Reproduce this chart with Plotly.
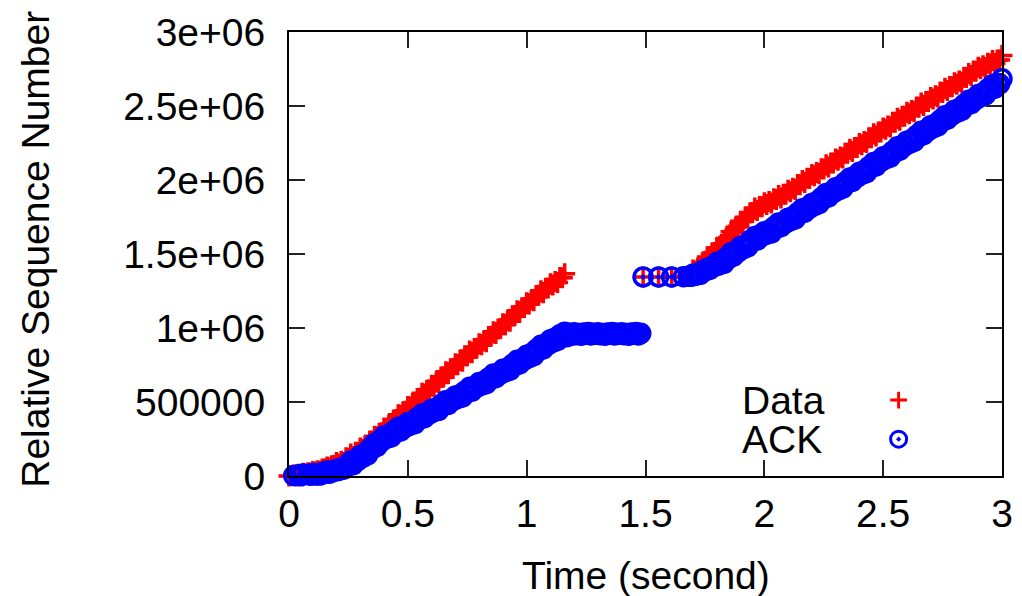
import plotly.graph_objects as go

# ================= data (sequence numbers in thousands) =================
# ---- Data packets (red +), before the gap ----
data_t_a = [0.00, 0.01, 0.02, 0.03, 0.04, 0.05, 0.06, 0.07, 0.08, 0.09,
            0.10, 0.11, 0.12, 0.13, 0.14, 0.15, 0.16, 0.17, 0.18, 0.19,
            0.20, 0.21, 0.22, 0.23, 0.24, 0.25, 0.26, 0.27, 0.28, 0.29,
            0.30, 0.31, 0.32, 0.33, 0.34, 0.35, 0.36, 0.37, 0.38, 0.39,
            0.40, 0.41, 0.42, 0.43, 0.44, 0.45, 0.46, 0.47, 0.48, 0.49,
            0.50, 0.51, 0.52, 0.53, 0.54, 0.55, 0.56, 0.57, 0.58, 0.59,
            0.60, 0.61, 0.62, 0.63, 0.64, 0.65, 0.66, 0.67, 0.68, 0.69,
            0.70, 0.71, 0.72, 0.73, 0.74, 0.75, 0.76, 0.77, 0.78, 0.79,
            0.80, 0.81, 0.82, 0.83, 0.84, 0.85, 0.86, 0.87, 0.88, 0.89,
            0.90, 0.91, 0.92, 0.93, 0.94, 0.95, 0.96, 0.97, 0.98, 0.99,
            1.00, 1.01, 1.02, 1.03, 1.04, 1.05, 1.06, 1.07, 1.08, 1.09,
            1.10, 1.11, 1.12, 1.13, 1.14, 1.15, 1.16]
data_seq_a = [0, -1, 6, 0, 12, 9, 19, 12, 22, 20,
              31, 27, 36, 32, 47, 47, 60, 56, 69, 71,
              92, 80, 100, 91, 123, 120, 148, 132, 160, 160,
              189, 181, 205, 200, 236, 237, 269, 257, 289, 292,
              324, 318, 345, 341, 379, 381, 414, 402, 434, 437,
              469, 463, 490, 486, 524, 526, 559, 547, 579, 582,
              614, 608, 635, 631, 669, 671, 704, 692, 724, 727,
              759, 753, 780, 775, 812, 813, 845, 832, 862, 864,
              894, 887, 912, 907, 943, 944, 975, 963, 994, 997,
              1028, 1022, 1049, 1045, 1083, 1085, 1117, 1105, 1136, 1139,
              1170, 1163, 1189, 1184, 1220, 1221, 1252, 1239, 1268, 1270,
              1299, 1290, 1314, 1307, 1342, 1339, 1367]

# ---- Data packets (red +), after the gap ----
data_t_b = [1.49, 1.555, 1.61, 1.675, 1.69,
            1.70, 1.71, 1.72, 1.73, 1.74, 1.75, 1.76, 1.77, 1.78, 1.79,
            1.80, 1.81, 1.82, 1.83, 1.84, 1.85, 1.86, 1.87, 1.88, 1.89,
            1.90, 1.91, 1.92, 1.93, 1.94, 1.95, 1.96, 1.97, 1.98, 1.99,
            2.00, 2.01, 2.02, 2.03, 2.04, 2.05, 2.06, 2.07, 2.08, 2.09,
            2.10, 2.11, 2.12, 2.13, 2.14, 2.15, 2.16, 2.17, 2.18, 2.19,
            2.20, 2.21, 2.22, 2.23, 2.24, 2.25, 2.26, 2.27, 2.28, 2.29,
            2.30, 2.31, 2.32, 2.33, 2.34, 2.35, 2.36, 2.37, 2.38, 2.39,
            2.40, 2.41, 2.42, 2.43, 2.44, 2.45, 2.46, 2.47, 2.48, 2.49,
            2.50, 2.51, 2.52, 2.53, 2.54, 2.55, 2.56, 2.57, 2.58, 2.59,
            2.60, 2.61, 2.62, 2.63, 2.64, 2.65, 2.66, 2.67, 2.68, 2.69,
            2.70, 2.71, 2.72, 2.73, 2.74, 2.75, 2.76, 2.77, 2.78, 2.79,
            2.80, 2.81, 2.82, 2.83, 2.84, 2.85, 2.86, 2.87, 2.88, 2.89,
            2.90, 2.91, 2.92, 2.93, 2.94, 2.95, 2.96, 2.97, 2.98, 2.99,
            3.00]
data_seq_b = [1345, 1345, 1345, 1348, 1363,
              1392, 1382, 1404, 1401, 1439, 1445, 1480, 1472, 1506, 1510,
              1542, 1537, 1564, 1564, 1604, 1612, 1650, 1644, 1681, 1688,
              1722, 1720, 1749, 1744, 1779, 1780, 1810, 1794, 1821, 1820,
              1847, 1835, 1854, 1844, 1874, 1869, 1895, 1878, 1904, 1903,
              1930, 1921, 1944, 1936, 1969, 1968, 1997, 1983, 2011, 2010,
              2037, 2028, 2050, 2043, 2076, 2075, 2103, 2088, 2115, 2115,
              2142, 2133, 2155, 2148, 2181, 2180, 2208, 2193, 2220, 2220,
              2247, 2238, 2260, 2253, 2286, 2285, 2313, 2298, 2325, 2325,
              2352, 2343, 2365, 2358, 2391, 2390, 2418, 2403, 2430, 2430,
              2457, 2447, 2469, 2461, 2494, 2492, 2520, 2504, 2531, 2530,
              2557, 2547, 2569, 2561, 2594, 2592, 2620, 2604, 2631, 2630,
              2657, 2647, 2669, 2661, 2694, 2692, 2720, 2706, 2736, 2735,
              2762, 2751, 2772, 2760, 2789, 2783, 2807, 2787, 2811, 2810,
              2842]

# ---- ACKs (blue circles), before the jump ----
ack_t_a = [0.02, 0.03, 0.04, 0.05, 0.06, 0.07, 0.08, 0.09,
           0.10, 0.11, 0.12, 0.13, 0.14, 0.15, 0.16, 0.17, 0.18, 0.19,
           0.20, 0.21, 0.22, 0.23, 0.24, 0.25, 0.26, 0.27, 0.28, 0.29,
           0.30, 0.31, 0.32, 0.33, 0.34, 0.35, 0.36, 0.37, 0.38, 0.39,
           0.40, 0.41, 0.42, 0.43, 0.44, 0.45, 0.46, 0.47, 0.48, 0.49,
           0.50, 0.51, 0.52, 0.53, 0.54, 0.55, 0.56, 0.57, 0.58, 0.59,
           0.60, 0.61, 0.62, 0.63, 0.64, 0.65, 0.66, 0.67, 0.68, 0.69,
           0.70, 0.71, 0.72, 0.73, 0.74, 0.75, 0.76, 0.77, 0.78, 0.79,
           0.80, 0.81, 0.82, 0.83, 0.84, 0.85, 0.86, 0.87, 0.88, 0.89,
           0.90, 0.91, 0.92, 0.93, 0.94, 0.95, 0.96, 0.97, 0.98, 0.99,
           1.00, 1.01, 1.02, 1.03, 1.04, 1.05, 1.06, 1.07, 1.08, 1.09,
           1.10, 1.11, 1.12, 1.13, 1.14, 1.15, 1.16, 1.17, 1.18, 1.19,
           1.20, 1.21, 1.22, 1.23, 1.24, 1.25, 1.26, 1.27, 1.28, 1.29,
           1.30, 1.31, 1.32, 1.33, 1.34, 1.35, 1.36, 1.37, 1.38, 1.39,
           1.40, 1.41, 1.42, 1.43, 1.44, 1.45, 1.46, 1.47, 1.48]
ack_seq_a = [3, -8, 8, 1, 14, -2, 10, 5,
             17, 6, 16, 6, 23, 18, 33, 19, 34, 31,
             46, 38, 52, 47, 70, 68, 101, 77, 109, 106,
             139, 125, 153, 142, 185, 183, 220, 200, 236, 236,
             271, 254, 279, 264, 303, 296, 329, 304, 335, 330,
             361, 344, 369, 354, 393, 386, 419, 394, 425, 420,
             451, 434, 459, 444, 483, 476, 509, 484, 515, 510,
             541, 524, 549, 534, 573, 566, 599, 574, 605, 600,
             631, 614, 639, 624, 663, 656, 689, 664, 695, 690,
             721, 704, 730, 715, 755, 748, 782, 757, 789, 784,
             816, 800, 827, 813, 854, 848, 883, 859, 892, 888,
             921, 905, 932, 916, 954, 944, 972, 941, 965, 952,
             968, 955, 963, 951, 966, 958, 970, 953, 964, 957,
             968, 955, 963, 951, 966, 958, 970, 953, 964, 957,
             968, 955, 963, 951, 966, 958, 970, 953, 964]

# ---- ACKs (blue circles), after the jump ----
ack_t_b = [1.49, 1.555, 1.61, 1.66, 1.68, 1.69,
           1.70, 1.71, 1.72, 1.73, 1.74, 1.75, 1.76, 1.77, 1.78, 1.79,
           1.80, 1.81, 1.82, 1.83, 1.84, 1.85, 1.86, 1.87, 1.88, 1.89,
           1.90, 1.91, 1.92, 1.93, 1.94, 1.95, 1.96, 1.97, 1.98, 1.99,
           2.00, 2.01, 2.02, 2.03, 2.04, 2.05, 2.06, 2.07, 2.08, 2.09,
           2.10, 2.11, 2.12, 2.13, 2.14, 2.15, 2.16, 2.17, 2.18, 2.19,
           2.20, 2.21, 2.22, 2.23, 2.24, 2.25, 2.26, 2.27, 2.28, 2.29,
           2.30, 2.31, 2.32, 2.33, 2.34, 2.35, 2.36, 2.37, 2.38, 2.39,
           2.40, 2.41, 2.42, 2.43, 2.44, 2.45, 2.46, 2.47, 2.48, 2.49,
           2.50, 2.51, 2.52, 2.53, 2.54, 2.55, 2.56, 2.57, 2.58, 2.59,
           2.60, 2.61, 2.62, 2.63, 2.64, 2.65, 2.66, 2.67, 2.68, 2.69,
           2.70, 2.71, 2.72, 2.73, 2.74, 2.75, 2.76, 2.77, 2.78, 2.79,
           2.80, 2.81, 2.82, 2.83, 2.84, 2.85, 2.86, 2.87, 2.88, 2.89,
           2.90, 2.91, 2.92, 2.93, 2.94, 2.95, 2.96, 2.97, 2.98, 2.99,
           3.00]
ack_seq_b = [1345, 1345, 1345, 1347, 1350, 1349,
             1364, 1355, 1367, 1363, 1387, 1386, 1404, 1396, 1416, 1416,
             1442, 1426, 1453, 1437, 1475, 1471, 1509, 1485, 1516, 1514,
             1551, 1535, 1560, 1548, 1592, 1585, 1618, 1594, 1627, 1621,
             1651, 1634, 1660, 1643, 1682, 1675, 1710, 1684, 1715, 1710,
             1742, 1726, 1752, 1738, 1778, 1772, 1806, 1782, 1814, 1810,
             1842, 1827, 1853, 1840, 1880, 1875, 1909, 1886, 1918, 1915,
             1947, 1932, 1958, 1945, 1985, 1980, 2014, 1991, 2023, 2020,
             2052, 2037, 2063, 2050, 2090, 2085, 2119, 2096, 2128, 2125,
             2157, 2142, 2168, 2155, 2195, 2190, 2224, 2201, 2233, 2230,
             2262, 2247, 2273, 2260, 2300, 2295, 2329, 2306, 2338, 2335,
             2367, 2352, 2378, 2365, 2405, 2400, 2434, 2411, 2443, 2440,
             2472, 2457, 2483, 2470, 2510, 2505, 2539, 2516, 2548, 2545,
             2577, 2562, 2588, 2575, 2615, 2610, 2644, 2621, 2653, 2650,
             2684]

x_tick_vals = [0, 0.5, 1, 1.5, 2, 2.5, 3]
x_tick_text = ["0", "0.5", "1", "1.5", "2", "2.5", "3"]
y_tick_vals = [0, 500000, 1000000, 1500000, 2000000, 2500000, 3000000]
y_tick_text = ["0", "500000", "1e+06", "1.5e+06", "2e+06", "2.5e+06", "3e+06"]

series_names = ["Data", "ACK"]

assert len(data_t_a) == len(data_seq_a), (len(data_t_a), len(data_seq_a))
assert len(data_t_b) == len(data_seq_b), (len(data_t_b), len(data_seq_b))
assert len(ack_t_a) == len(ack_seq_a), (len(ack_t_a), len(ack_seq_a))
assert len(ack_t_b) == len(ack_seq_b), (len(ack_t_b), len(ack_seq_b))

data_t = data_t_a + data_t_b
data_seq = [v * 1000 for v in data_seq_a + data_seq_b]
ack_t = ack_t_a + ack_t_b
ack_seq = [v * 1000 for v in ack_seq_a + ack_seq_b]

# ================= styling =================
FONT = "Liberation Sans, Arial, Helvetica, sans-serif"
FS = 39
RED = "#ff0000"
BLUE = "#0000ff"

fig = go.Figure()
fig.add_trace(go.Scatter(
    x=data_t, y=data_seq, mode="markers", name=series_names[0],
    cliponaxis=False, showlegend=False,
    marker=dict(symbol="cross-thin-open", size=15, color=RED,
                line=dict(color=RED, width=3.5)),
))
fig.add_trace(go.Scatter(
    x=ack_t, y=ack_seq, mode="markers", name=series_names[1],
    cliponaxis=False, showlegend=False,
    marker=dict(symbol="circle-open-dot", size=18, color=BLUE,
                line=dict(color=BLUE, width=3.5)),
))

# legend samples (gnuplot style: text then symbol) on an overlay unit axis
LEG_TEXT_X = 0.632
LEG_SYM_X = 0.855
LEG_Y = [0.171, 0.083]
fig.add_trace(go.Scatter(
    x=[LEG_SYM_X], y=[LEG_Y[0]], xaxis="x2", yaxis="y2", mode="markers",
    showlegend=False, hoverinfo="skip", cliponaxis=False,
    marker=dict(symbol="cross-thin-open", size=12, color=RED,
                line=dict(color=RED, width=3)),
))
fig.add_trace(go.Scatter(
    x=[LEG_SYM_X], y=[LEG_Y[1]], xaxis="x2", yaxis="y2", mode="markers",
    showlegend=False, hoverinfo="skip", cliponaxis=False,
    marker=dict(symbol="circle-open-dot", size=16, color=BLUE,
                line=dict(color=BLUE, width=3)),
))

annotations = []
for name, yy in zip(series_names, LEG_Y):
    annotations.append(dict(text=name, xref="paper", yref="paper", x=LEG_TEXT_X, y=yy,
                            xanchor="left", yanchor="middle", showarrow=False,
                            font=dict(family=FONT, size=FS, color="black")))
annotations.append(dict(text="Relative Sequence Number", xref="paper", yref="paper",
                        x=-0.356, y=0.51, textangle=-90, xanchor="center", yanchor="middle",
                        showarrow=False, font=dict(family=FONT, size=FS, color="black")))
annotations.append(dict(text="Time (second)", xref="paper", yref="paper",
                        x=0.5, y=-0.223, xanchor="center", yanchor="middle",
                        showarrow=False, font=dict(family=FONT, size=FS, color="black")))

axis_common = dict(showline=True, linecolor="black", linewidth=2, mirror="allticks",
                   ticks="inside", ticklen=16, tickwidth=2, tickcolor="#222222",
                   showgrid=False, zeroline=False, automargin=False,
                   tickfont=dict(family=FONT, size=FS, color="black"))

# the page body adds an 8px margin, so the figure is sized/offset to put the frame where the reference has it
fig.update_layout(
    width=1006, height=588,
    margin=dict(l=281, r=12, t=24, b=120),
    paper_bgcolor="white", plot_bgcolor="white",
    xaxis=dict(range=[0, 3], tickvals=x_tick_vals, ticktext=x_tick_text,
               ticklabelstandoff=2, **axis_common),
    yaxis=dict(range=[0, 3000000], tickvals=y_tick_vals, ticktext=y_tick_text,
               ticklabelstandoff=14, **axis_common),
    xaxis2=dict(range=[0, 1], overlaying="x", visible=False),
    yaxis2=dict(range=[0, 1], overlaying="y", visible=False),
    annotations=annotations,
)

fig.write_html("out.html")
